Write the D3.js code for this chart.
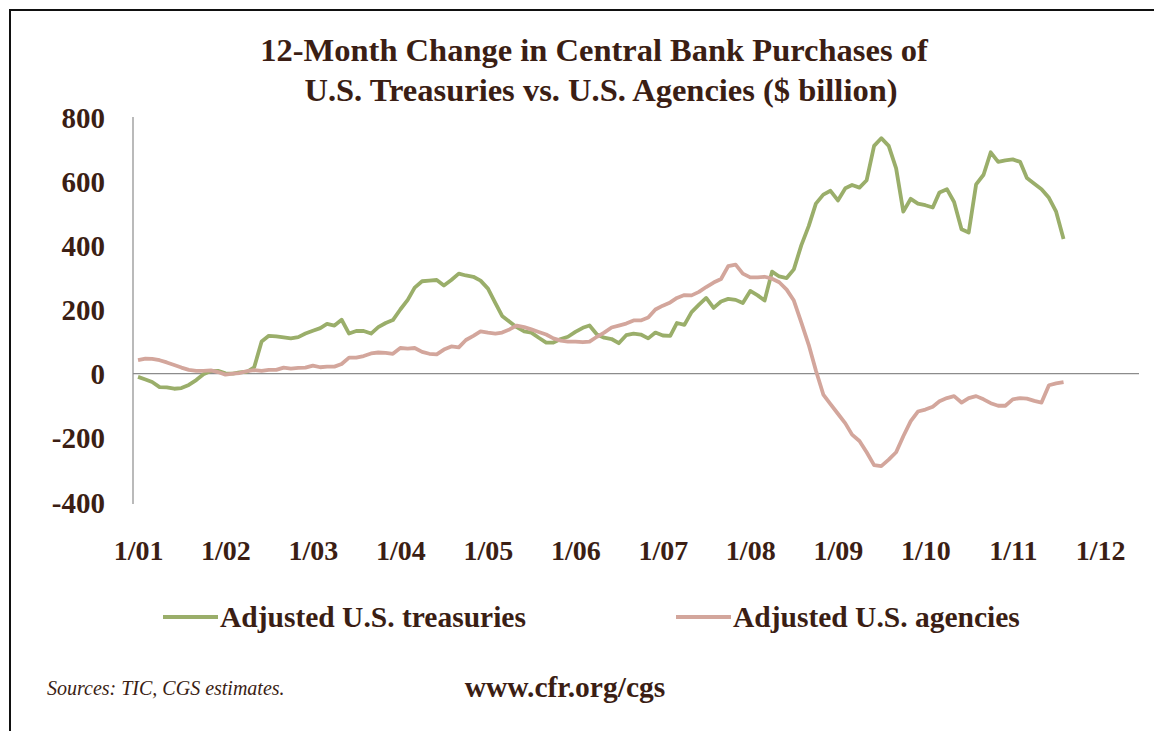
<!DOCTYPE html>
<html lang="en">
<head>
  <meta charset="UTF-8" />
  <title>12-Month Change in Central Bank Purchases</title>
  <style>
    body {
      margin: 0;
      background-color: white;
    }
    svg {
      display: block;
      font-family: 'Liberation Serif', 'Times New Roman', serif;
    }
    .lbl {
      font-weight: bold;
      fill: #3b1e14;
      font-family: 'Liberation Serif', 'Times New Roman', serif;
    }
    .axis .domain {
      display: none;
    }
  </style>
</head>
<body>
  <svg width="1154" height="731"></svg>

  <script src="https://d3js.org/d3.v7.min.js"></script>
  <script>
    // monthly series, Jan 2001 .. Aug 2011 ($ billion)
    const startMonth = new Date(2001, 0, 1);

    const treasuries = [
      -10, -18, -26, -42, -43, -47, -45, -35, -20, -2, 8, 9,
      1, 0, 4, 6, 20, 100, 118, 116, 113, 110, 114, 125,
      134, 142, 155, 150, 168, 125, 133, 133, 125, 145, 158, 167,
      200, 230, 268, 288, 290, 292, 275, 292, 312, 306, 302, 290,
      265, 220, 180, 162, 145, 132, 128, 112, 97, 97, 108, 115,
      130, 143, 150, 122, 112, 108, 95, 120, 125, 122, 110, 128,
      119, 118, 158, 152, 192, 215, 236, 205, 225, 233, 230, 220,
      258, 244, 228, 318, 303, 298, 325, 400, 460, 530, 558, 570,
      540, 578, 588, 580, 603, 710, 734, 710, 640, 505, 545, 530,
      525, 518, 565, 575, 535, 450, 440, 590, 620, 690, 660, 665,
      668, 660, 610, 592, 575, 548, 505, 420
    ];

    const agencies = [
      42, 47, 46, 42, 35, 27, 19, 12, 9, 9, 10, 5,
      -3, 0, 2, 8, 11, 9, 12, 12, 19, 16, 18, 19,
      25, 20, 22, 22, 30, 50, 50, 55, 63, 66, 65, 62,
      80, 78, 80, 68, 62, 60, 75, 85, 82, 105, 118, 132,
      128, 125, 128, 138, 150, 145, 138, 130, 122, 110, 103, 100,
      100, 98, 100, 115, 128, 144, 150, 156, 166, 166, 175, 200,
      212, 222, 236, 245, 244, 255, 270, 284, 295, 335, 340, 312,
      300, 300, 302, 296, 285, 262, 228, 160, 90, 10, -65, -95,
      -125, -155, -190, -210, -245, -285, -288, -268, -245, -195, -148, -118,
      -112, -103, -86, -76, -70, -90, -76, -70, -80, -92, -100, -100,
      -80, -76, -78, -85, -90, -36, -30, -26
    ];

    const yTicks = [800, 600, 400, 200, 0, -200, -400];
    const xTickYears = [2001, 2002, 2003, 2004, 2005, 2006, 2007, 2008, 2009, 2010, 2011, 2012];

    const seriesNames = ["Adjusted U.S. treasuries", "Adjusted U.S. agencies"];
    const seriesColors = ["#9aae6a", "#d3a69c"];

    const textColor = "#3b1e14";

    const svg = d3.select("svg");

    svg.append("rect")
      .attr("width", 1154)
      .attr("height", 731)
      .attr("fill", "white");

    // frame
    svg.append("path")
      .attr("d", "M10,731 L10,10 L1154,10")
      .attr("fill", "none")
      .attr("stroke", "#111")
      .attr("stroke-width", 2);

    const x = d3.scaleTime()
      .domain([new Date(2000, 11, 11), new Date(2012, 5, 11)])
      .range([133, 1139]);

    const y = d3.scaleLinear()
      .domain([-400, 800])
      .range([502, 117]);

    const dates = treasuries.map((_, i) => d3.timeMonth.offset(startMonth, i));

    // title
    const title = svg.append("text")
      .attr("class", "lbl")
      .attr("text-anchor", "middle")
      .style("font-size", "32.5px");
    title.append("tspan").attr("x", 594).attr("y", 61).text("12-Month Change in Central Bank Purchases of");
    title.append("tspan").attr("x", 601).attr("y", 101).text("U.S. Treasuries vs. U.S. Agencies ($ billion)");

    // y axis labels
    const yAxis = svg.append("g")
      .attr("class", "axis")
      .attr("font-family", null)
      .attr("font-size", null)
      .attr("transform", "translate(133,0)")
      .call(d3.axisLeft(y).tickValues(yTicks).tickSize(0).tickPadding(28));
    yAxis.attr("font-family", null).attr("font-size", null);
    yAxis.selectAll("text")
      .attr("class", "lbl")
      .style("font-size", "29px")
      .attr("dy", "0.35em")
      .text(d => d < 0 ? "-" + Math.abs(d) : d);

    // x axis labels
    const xAxis = svg.append("g")
      .attr("class", "axis")
      .attr("transform", "translate(0,532)")
      .call(d3.axisBottom(x)
        .tickValues(xTickYears.map(yr => new Date(yr, 0, 1)))
        .tickFormat(d3.timeFormat("%-m/%y"))
        .tickSize(0)
        .tickPadding(0));
    xAxis.attr("font-family", null).attr("font-size", null);
    xAxis.selectAll("text")
      .attr("class", "lbl")
      .style("font-size", "28px")
      .attr("dy", "1em");

    // axis lines
    svg.append("line")
      .attr("x1", 133).attr("x2", 133)
      .attr("y1", y(800)).attr("y2", y(-400) + 2)
      .attr("stroke", "#8c8c8c")
      .attr("stroke-width", 1.2);

    svg.append("line")
      .attr("x1", x.range()[0]).attr("x2", x.range()[1])
      .attr("y1", y(0)).attr("y2", y(0))
      .attr("stroke", "#8c8c8c")
      .attr("stroke-width", 1.2);

    // lines
    const line = d3.line()
      .x((d, i) => x(dates[i]))
      .y(d => y(d));

    [treasuries, agencies].forEach((s, k) => {
      svg.append("path")
        .datum(s)
        .attr("d", line)
        .attr("fill", "none")
        .attr("stroke", seriesColors[k])
        .attr("stroke-width", 3.8)
        .attr("stroke-linejoin", "round");
    });

    // legend
    const legendX = [163, 676];
    seriesNames.forEach((name, k) => {
      const g = svg.append("g").attr("transform", `translate(${legendX[k]},617)`);
      g.append("line")
        .attr("x1", 0).attr("x2", 55)
        .attr("stroke", seriesColors[k])
        .attr("stroke-width", 4);
      g.append("text")
        .attr("class", "lbl")
        .attr("x", 57)
        .attr("dy", "0.35em")
        .style("font-size", "29.5px")
        .text(name);
    });

    // footer
    svg.append("text")
      .attr("x", 47)
      .attr("y", 695)
      .attr("fill", textColor)
      .style("font-size", "20px")
      .style("font-style", "italic")
      .text("Sources: TIC, CGS estimates.");

    svg.append("text")
      .attr("class", "lbl")
      .attr("x", 565)
      .attr("y", 697)
      .attr("text-anchor", "middle")
      .style("font-size", "29.5px")
      .text("www.cfr.org/cgs");
  </script>
</body>
</html>
